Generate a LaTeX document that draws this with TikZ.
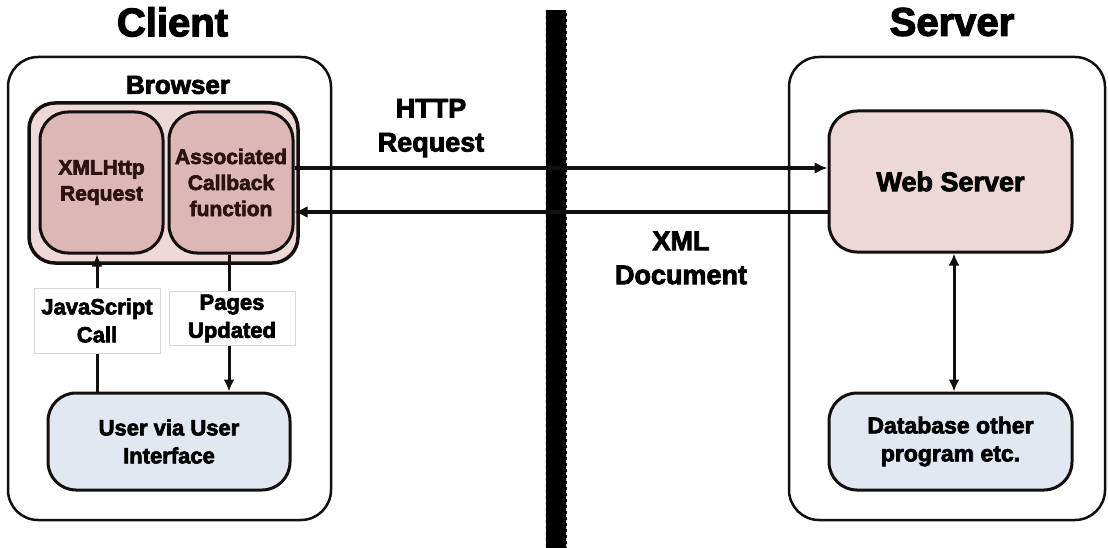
\documentclass[tikz,border=0pt]{standalone}
\usepackage{fontspec}
\setmainfont{Liberation Sans}[BoldFeatures={FakeBold=3}]
\usetikzlibrary{arrows.meta}

\definecolor{edge}{RGB}{20,15,15}
\definecolor{ink}{RGB}{45,18,18}
\definecolor{pinklight}{RGB}{237,217,216}
\definecolor{pinkdark}{RGB}{219,184,182}
\definecolor{pinkserver}{RGB}{236,216,214}
\definecolor{bluegrey}{RGB}{226,232,241}
\definecolor{lblgrey}{RGB}{215,215,215}

\tikzset{
  tier/.style={draw=edge, line width=2.5pt, rounded corners=30pt, fill=white},
  container/.style={draw=edge, line width=3.5pt, rounded corners=26pt, fill=pinklight},
  component/.style={draw=edge, line width=3pt, rounded corners=28pt, fill=pinkdark,
    text=ink, align=center, font=\bfseries\fontsize{21}{26}\selectfont},
  service/.style={draw=edge, line width=3pt, rounded corners=28pt, align=center},
  edgelabel/.style={draw=lblgrey, line width=0.8pt, fill=white, align=center,
    font=\bfseries\fontsize{22}{28}\selectfont},
  heading/.style={font=\bfseries\fontsize{40}{44}\selectfont},
  caption/.style={align=center, font=\bfseries\fontsize{27}{34}\selectfont},
  flow/.style={draw=edge, line width=3.5pt, -{Latex[length=13pt,width=12pt]}},
  call/.style={draw=edge, line width=3pt, -{Latex[length=12pt,width=11pt]}},
}

\begin{document}
\begin{tikzpicture}[x=1pt, y=-1pt]
\useasboundingbox (0,0) rectangle (1108,548);

% titles
\node[heading] (clientttl) at (172.5,22) {Client};
\node[heading] (serverttl) at (952,22) {Server};

% client and server tiers
\node[tier, minimum width=323pt, minimum height=463pt] (client) at (169.5,288.5) {};
\node[tier, minimum width=316pt, minimum height=463pt] (server) at (947,288.5) {};

% browser with its two components
\node[font=\bfseries\fontsize{26}{30}\selectfont] (browserttl) at (178,85) {Browser};
\node[container, minimum width=269pt, minimum height=160pt] (browser) at (163.5,183) {};
\node[component, minimum width=123pt, minimum height=141pt] (xhr) at (101.5,182.5)
  {XMLHttp\\Request};
\node[component, minimum width=124pt, minimum height=141pt] (assoc) at (231,182.5)
  {Associated\\Callback\\function};

% user interface
\node[service, fill=bluegrey, minimum width=242pt, minimum height=97pt,
  font=\bfseries\fontsize{22}{28}\selectfont] (user) at (169,441.5)
  {User via User\\Interface};

% server side
\node[service, fill=pinkserver, minimum width=243pt, minimum height=141pt,
  font=\bfseries\fontsize{27}{32}\selectfont] (web) at (950.5,181.5) {Web Server};
\node[service, fill=bluegrey, minimum width=243pt, minimum height=97pt,
  font=\bfseries\fontsize{23}{28}\selectfont] (db) at (950.5,441.5)
  {Database other\\program etc.};

% network boundary
\coordinate (bartop) at (556,10);
\coordinate (barbot) at (556,548);
\draw[line width=21pt, black] (bartop) -- (barbot);
\draw[white!85!black, line width=0.8pt, dash pattern=on 3pt off 3pt]
  ([xshift=-10.5pt]bartop) -- ([xshift=-10.5pt]barbot);
\draw[white!85!black, line width=0.8pt, dash pattern=on 3pt off 3pt]
  ([xshift=10.5pt]bartop) -- ([xshift=10.5pt]barbot);

% request / response between callback and web server
\coordinate (req) at ([yshift=14.5pt]assoc.east);
\coordinate (resp) at ([yshift=-29.5pt]assoc.east);
\draw[flow] (req) -- (req -| web.west);
\draw[flow] (resp -| web.west) -- (resp);
\node[caption] (reqlbl) at (431,128) {HTTP\\Request};
\node[caption] (resplbl) at (681,258) {XML\\Document};

% calls inside the client
\coordinate (jsx) at ([xshift=-4.5pt]xhr.south);
\coordinate (pgx) at ([xshift=-2pt]assoc.south);
\draw[call] (jsx |- user.north) -- (jsx);
\draw[call] (pgx) -- (pgx |- user.north);
\node[edgelabel, minimum width=126pt, minimum height=65pt] (jslbl) at (97,320.5)
  {JavaScript\\Call};
\node[edgelabel, minimum width=126pt, minimum height=53pt] (pglbl) at (232,318.5)
  {Pages\\Updated};

% web server to database
\draw[call, {Latex[length=12pt,width=11pt]}-{Latex[length=12pt,width=11pt]}]
  ([xshift=3.5pt]web.south) -- ([xshift=3.5pt]db.north);
\end{tikzpicture}
\end{document}
